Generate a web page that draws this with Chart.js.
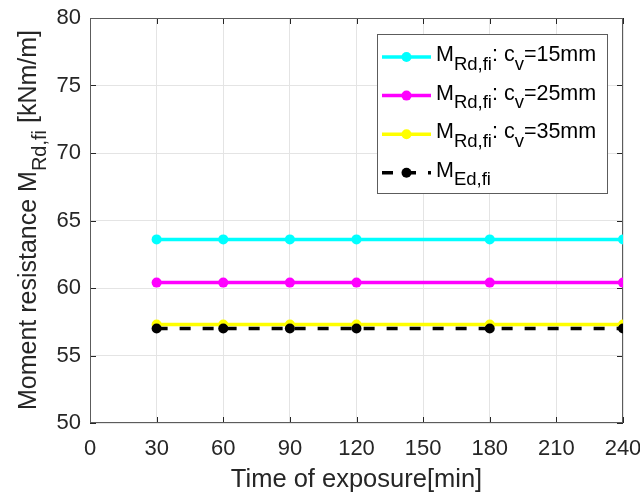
<!DOCTYPE html>
<html lang="en">
<head>
  <meta charset="UTF-8">
  <title>Moment resistance vs. time of exposure</title>
  <script src="https://cdn.jsdelivr.net/npm/chart.js"></script>
  <style>
    html, body { margin: 0; padding: 0; background: #fff; }
  </style>
</head>
<body>

  <canvas id="momentChart" width="640" height="495"></canvas>

  <script>
    // data
    const times = [30, 60, 90, 120, 180, 240];
    const mRd15 = [63.6, 63.6, 63.6, 63.6, 63.6, 63.6];
    const mRd25 = [60.4, 60.4, 60.4, 60.4, 60.4, 60.4];
    const mRd35 = [57.3, 57.3, 57.3, 57.3, 57.3, 57.3];
    const mEd   = [57.0, 57.0, 57.0, 57.0, 57.0, 57.0];
    const seriesLabels = [
      'M_{Rd,fi}: c_{v}=15mm',
      'M_{Rd,fi}: c_{v}=25mm',
      'M_{Rd,fi}: c_{v}=35mm',
      'M_{Ed,fi}'
    ];
    const xTicks = [0, 30, 60, 90, 120, 150, 180, 210, 240];
    const yTicks = [50, 55, 60, 65, 70, 75, 80];
    const xTitle = 'Time of exposure[min]';
    const yTitle = 'Moment resistance M_{Rd,fi} [kNm/m]';

    const FONT = '"Liberation Sans", Arial, Helvetica, sans-serif';
    const TEXT = '#262626';
    const EDGE = '#5c5c5c';

    const pts = arr => times.map((t, i) => ({ x: t, y: arr[i] }));

    // split "a_{b}c" into normal / subscript runs
    function richParts(str) {
      const parts = [];
      const re = /_\{([^}]*)\}/g;
      let last = 0, m;
      while ((m = re.exec(str))) {
        if (m.index > last) parts.push({ t: str.slice(last, m.index), sub: false });
        parts.push({ t: m[1], sub: true });
        last = re.lastIndex;
      }
      if (last < str.length) parts.push({ t: str.slice(last), sub: false });
      return parts;
    }

    function richWidth(ctx, parts, size, subSize) {
      let w = 0;
      parts.forEach(p => {
        ctx.font = (p.sub ? subSize : size) + 'px ' + FONT;
        w += ctx.measureText(p.t).width;
      });
      return w;
    }

    function drawRich(ctx, parts, x, y, size, subSize, drop) {
      ctx.textBaseline = 'alphabetic';
      ctx.textAlign = 'left';
      parts.forEach(p => {
        ctx.font = (p.sub ? subSize : size) + 'px ' + FONT;
        ctx.fillText(p.t, x, p.sub ? y + drop : y);
        x += ctx.measureText(p.t).width;
      });
    }

    const matlabLook = {
      id: 'matlabLook',
      beforeDatasetsDraw(chart) {
        const { ctx, chartArea: a, scales } = chart;
        ctx.save();
        ctx.strokeStyle = TEXT;
        ctx.lineWidth = 1;
        ctx.beginPath();
        xTicks.forEach(v => {
          const px = Math.round(scales.x.getPixelForValue(v)) + 0.5;
          ctx.moveTo(px, a.bottom); ctx.lineTo(px, a.bottom - 6);
          ctx.moveTo(px, a.top); ctx.lineTo(px, a.top + 6);
        });
        yTicks.forEach(v => {
          const py = Math.round(scales.y.getPixelForValue(v)) + 0.5;
          ctx.moveTo(a.left, py); ctx.lineTo(a.left + 6, py);
          ctx.moveTo(a.right, py); ctx.lineTo(a.right - 6, py);
        });
        ctx.stroke();
        ctx.strokeStyle = EDGE;
        ctx.strokeRect(a.left + 0.5, a.top + 0.5, a.right - a.left - 1, a.bottom - a.top - 1);
        ctx.restore();
      },
      afterDraw(chart) {
        const { ctx, chartArea: a } = chart;
        ctx.save();
        ctx.fillStyle = TEXT;

        // x title
        const xp = richParts(xTitle);
        const xw = richWidth(ctx, xp, 25.5, 19);
        drawRich(ctx, xp, (a.left + a.right) / 2 - xw / 2, 487, 25.5, 19, 10);

        // y title, rotated
        const yp = richParts(yTitle);
        const yw = richWidth(ctx, yp, 25, 20);
        ctx.save();
        ctx.translate(36, 220);
        ctx.rotate(-Math.PI / 2);
        drawRich(ctx, yp, -yw / 2, 0, 25, 20, 10);
        ctx.restore();

        // legend
        const lx = 377, ly = 34, lw = 230, lh = 159;
        ctx.fillStyle = '#fff';
        ctx.fillRect(lx, ly, lw, lh);
        ctx.strokeStyle = EDGE;
        ctx.lineWidth = 1;
        ctx.strokeRect(lx + 0.5, ly + 0.5, lw, lh);

        chart.data.datasets.forEach((ds, i) => {
          const ry = 57 + i * 38.6;
          ctx.save();
          ctx.strokeStyle = ds.borderColor;
          ctx.lineWidth = ds.borderWidth;
          ctx.setLineDash(ds.borderDash || []);
          ctx.beginPath();
          ctx.moveTo(382, ry); ctx.lineTo(431, ry);
          ctx.stroke();
          ctx.setLineDash([]);
          ctx.fillStyle = ds.pointBackgroundColor;
          ctx.beginPath();
          ctx.arc(406.5, ry, 5, 0, Math.PI * 2);
          ctx.fill();
          ctx.restore();
          ctx.fillStyle = '#000';
          drawRich(ctx, richParts(seriesLabels[i]), 436, ry + 4, 21.5, 18.5, 8.5);
        });
        ctx.restore();
      }
    };

    const lineSet = (arr, color, order, dash) => ({
      data: pts(arr),
      borderColor: color,
      backgroundColor: color,
      pointBackgroundColor: color,
      pointBorderColor: color,
      pointRadius: 5,
      pointBorderWidth: 0,
      borderWidth: 3.5,
      borderDash: dash,
      order: order
    });

    new Chart(document.getElementById('momentChart'), {
      type: 'line',
      data: {
        datasets: [
          lineSet(mRd15, '#00ffff', 4),
          lineSet(mRd25, '#ff00ff', 3),
          lineSet(mRd35, '#ffff00', 2),
          lineSet(mEd, '#000000', 1, [11, 12])
        ]
      },
      options: {
        responsive: false,
        animation: false,
        layout: { padding: { left: 0, top: 18, right: 17, bottom: 0 } },
        plugins: {
          legend: { display: false },
          tooltip: { enabled: false }
        },
        scales: {
          x: {
            type: 'linear',
            min: 0,
            max: 240,
            afterBuildTicks: s => { s.ticks = xTicks.map(v => ({ value: v })); },
            afterFit: s => { s.height = 72; s.paddingLeft = 0; s.paddingRight = 0; },
            grid: { color: '#e4e4e4', drawTicks: false },
            border: { display: false },
            ticks: { font: { family: FONT, size: 22 }, color: TEXT, padding: 13, maxRotation: 0, autoSkip: false }
          },
          y: {
            min: 50,
            max: 80,
            afterBuildTicks: s => { s.ticks = yTicks.map(v => ({ value: v })); },
            afterFit: s => { s.width = 90; s.paddingTop = 0; s.paddingBottom = 0; },
            grid: { color: '#e4e4e4', drawTicks: false },
            border: { display: false },
            ticks: { font: { family: FONT, size: 22 }, color: TEXT, padding: 9, autoSkip: false }
          }
        }
      },
      plugins: [matlabLook]
    });
  </script>

</body>
</html>
